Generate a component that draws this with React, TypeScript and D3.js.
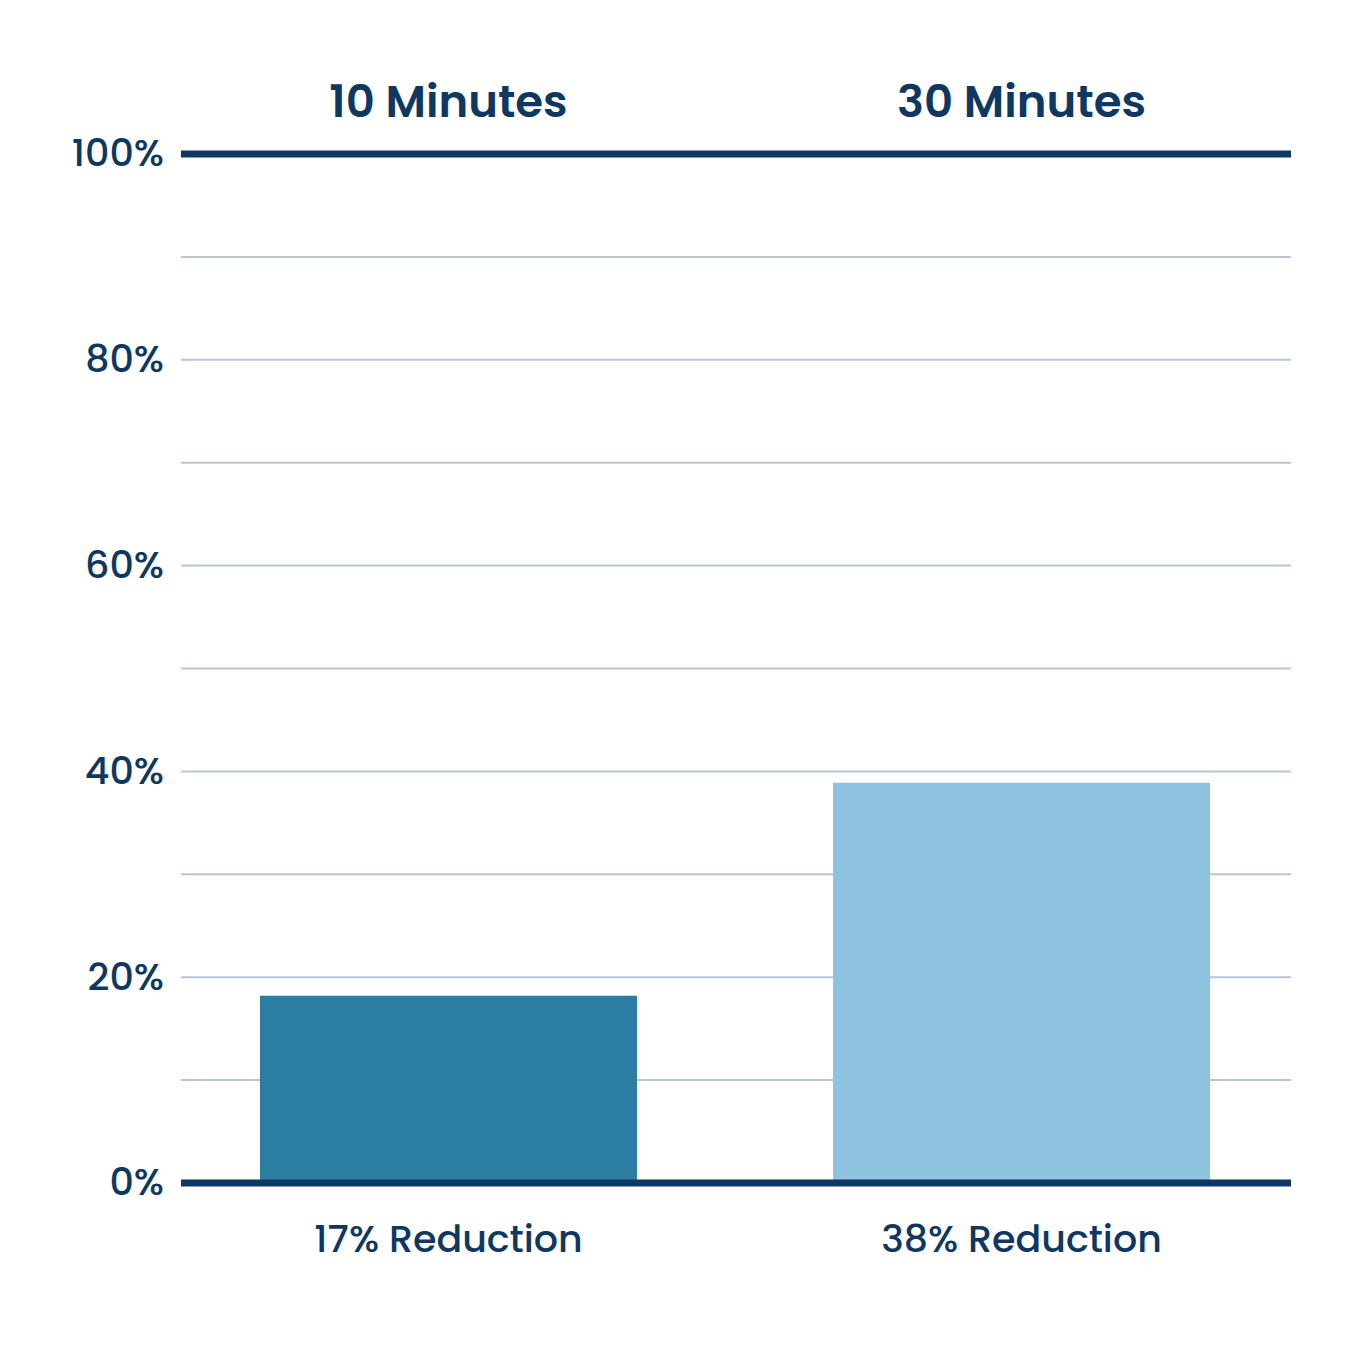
import { scaleBand, scaleLinear, range } from "d3";

// data
const categories = ["10 Minutes", "30 Minutes"];
const values = [18.2, 38.9];
const bottomLabels = ["17% Reduction", "38% Reduction"];
const barColors = ["#2b7ea2", "#8dc3de"];
const yTicks = [0, 20, 40, 60, 80, 100];
const gridTicks = range(0, 101, 10);

const W = 1350;
const H = 1350;
const NAVY = "#0e3862";
const FONT = "Poppins, Inter, 'Noto Sans', sans-serif";

export default function App() {
  const plotLeft = 181;
  const plotRight = 1291;

  const y = scaleLinear().domain([0, 100]).range([1183, 154]);
  const x = scaleBand<string>()
    .domain(categories)
    .range([162, 1308])
    .paddingInner(0.342)
    .paddingOuter(0.171);

  return (
    <div style={{ position: "absolute", left: 0, top: 0 }}>
      <svg width={W} height={H} style={{ display: "block", background: "#fff" }}>
        {/* gridlines */}
        {gridTicks
          .filter((t) => t !== 0 && t !== 100)
          .map((t) => (
            <line
              key={t}
              x1={plotLeft}
              x2={plotRight}
              y1={y(t)}
              y2={y(t)}
              stroke="#b9c5d5"
              strokeWidth={2}
            />
          ))}

        {/* bars */}
        {categories.map((c, i) => (
          <rect
            key={c}
            x={x(c)}
            width={x.bandwidth()}
            y={y(values[i])}
            height={y(0) - y(values[i])}
            fill={barColors[i]}
          />
        ))}

        {/* top and bottom heavy lines */}
        <line x1={plotLeft} x2={plotRight} y1={y(100)} y2={y(100)} stroke={NAVY} strokeWidth={7} />
        <line x1={plotLeft} x2={plotRight} y1={y(0)} y2={y(0)} stroke={NAVY} strokeWidth={7} />

        {/* y tick labels */}
        {yTicks.map((t) => (
          <text
            key={t}
            x={164}
            y={y(t) - 1}
            dy="0.35em"
            textAnchor="end"
            fontFamily={FONT}
            fontWeight={500}
            fontSize={38}
            fill={NAVY}
          >
            {t}%
          </text>
        ))}

        {/* category titles on top */}
        {categories.map((c) => (
          <text
            key={c}
            x={(x(c) ?? 0) + x.bandwidth() / 2}
            y={117}
            textAnchor="middle"
            fontFamily={FONT}
            fontWeight={600}
            fontSize={45}
            fill={NAVY}
          >
            {c}
          </text>
        ))}

        {/* reduction labels below */}
        {categories.map((c, i) => (
          <text
            key={c}
            x={(x(c) ?? 0) + x.bandwidth() / 2}
            y={1252}
            textAnchor="middle"
            fontFamily={FONT}
            fontWeight={500}
            fontSize={38}
            fill={NAVY}
          >
            {bottomLabels[i]}
          </text>
        ))}
      </svg>
    </div>
  );
}
